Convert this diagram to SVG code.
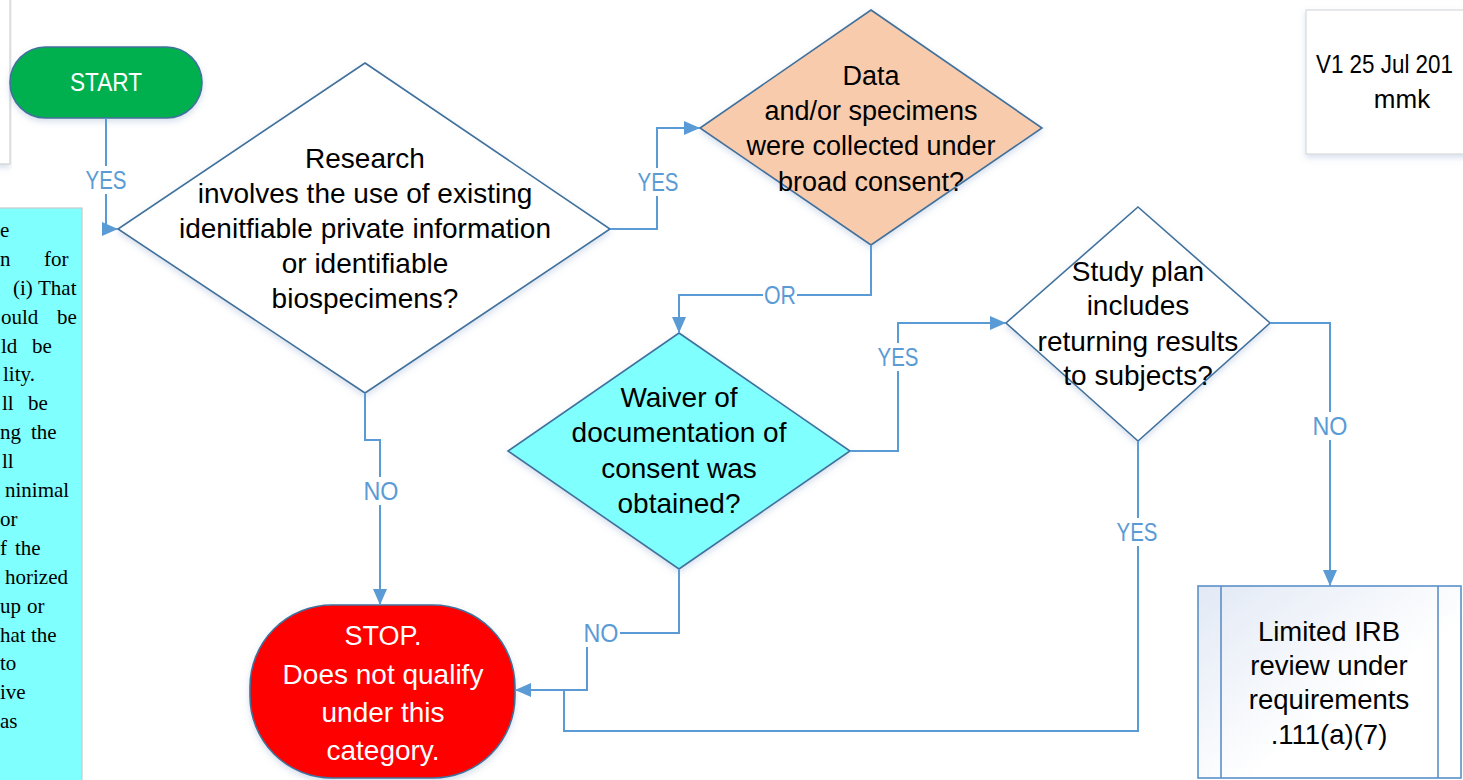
<svg xmlns="http://www.w3.org/2000/svg" width="1463" height="780" viewBox="0 0 1463 780">
<style>
.t{font-family:"Liberation Sans",Arial,sans-serif;font-size:28px;fill:#000;text-anchor:middle}
.w{fill:#fff}
.lbl{font-family:"Liberation Sans",Arial,sans-serif;font-size:25px;fill:#5B9BD5;text-anchor:middle}
.note{font-family:"Liberation Serif","Times New Roman",serif;font-size:21px;fill:#000}
.conn{fill:none;stroke:#5B9BD5;stroke-width:2}
.dia{stroke:#41719C;stroke-width:1.6}
.lb{fill:#fff}
</style>
<defs>
<marker id="arr" markerUnits="userSpaceOnUse" markerWidth="16" markerHeight="14" refX="16" refY="7" orient="auto">
<path d="M0,0 L16,7 L0,14 z" fill="#5B9BD5"/>
</marker>
<filter id="sh" x="-10%" y="-10%" width="120%" height="125%">
<feDropShadow dx="0" dy="3" stdDeviation="3" flood-color="#5B7FB5" flood-opacity="0.25"/>
</filter>
<linearGradient id="irbg" x1="0" y1="0" x2="1" y2="1">
<stop offset="0" stop-color="#E2E9F5"/>
<stop offset="0.6" stop-color="#FFFFFF"/>
</linearGradient>
</defs>
<rect width="1463" height="780" fill="#fff"/>

<g id="topleftbox">
<rect x="-10" y="-10" width="20" height="174" fill="#fff" stroke="#D0D0D0" stroke-width="1.2" filter="url(#sh)"/>
</g>

<g id="notebox">
<rect x="-10" y="208" width="92" height="580" fill="#80FFFF" stroke="#C8C8C8" stroke-width="1.2"/>
<text class="note" x="0" y="237">e</text>
<text class="note" y="266"><tspan x="0">n</tspan><tspan x="44">for</tspan></text>
<text class="note" y="295"><tspan x="13">(i)</tspan><tspan x="38">That</tspan></text>
<text class="note" y="324"><tspan x="1">ould</tspan><tspan x="57">be</tspan></text>
<text class="note" y="353"><tspan x="1">ld</tspan><tspan x="32">be</tspan></text>
<text class="note" x="3" y="381">lity.</text>
<text class="note" y="410"><tspan x="2">ll</tspan><tspan x="28">be</tspan></text>
<text class="note" y="439"><tspan x="0">ng</tspan><tspan x="31">the</tspan></text>
<text class="note" x="2" y="468">ll</text>
<text class="note" x="5" y="497">ninimal</text>
<text class="note" x="0" y="526">or</text>
<text class="note" y="555"><tspan x="0">f</tspan><tspan x="15">the</tspan></text>
<text class="note" x="5" y="584">horized</text>
<text class="note" y="613"><tspan x="0">up</tspan><tspan x="27">or</tspan></text>
<text class="note" y="642"><tspan x="0">hat</tspan><tspan x="31">the</tspan></text>
<text class="note" x="0" y="670">to</text>
<text class="note" x="0" y="699">ive</text>
<text class="note" x="0" y="728">as</text>
</g>

<g id="start">
<rect x="10" y="47" width="192" height="71" rx="35.5" fill="#00B050" stroke="#41719C" stroke-width="1.6" filter="url(#sh)"/>
<text class="t w" x="106" y="91" style="font-size:26px" textLength="72" lengthAdjust="spacingAndGlyphs">START</text>
</g>

<g id="version">
<rect x="1306" y="10" width="200" height="144" fill="#fff" stroke="#D9D9D9" stroke-width="1.2" filter="url(#sh)"/>
<text class="t" x="1316" y="73" style="font-size:26px;text-anchor:start" textLength="137" lengthAdjust="spacingAndGlyphs">V1 25 Jul 201</text>
<text class="t" x="1402" y="108" style="font-size:26px">mmk</text>
</g>

<g id="q1">
<polygon class="dia" points="365,63 610,229 365,393 118,229" fill="#fff" filter="url(#sh)"/>
<text class="t" x="365" y="168">Research</text>
<text class="t" x="365" y="203">involves the use of existing</text>
<text class="t" x="365" y="238">idenitfiable private information</text>
<text class="t" x="365" y="273">or identifiable</text>
<text class="t" x="365" y="308">biospecimens?</text>
</g>

<g id="q2">
<polygon class="dia" points="871,10 1042,128 871,245 700,128" fill="#F8CBAD" filter="url(#sh)"/>
<text class="t" x="871" y="85" style="font-size:27px">Data</text>
<text class="t" x="871" y="120" style="font-size:27px">and/or specimens</text>
<text class="t" x="871" y="155" style="font-size:27px">were collected under</text>
<text class="t" x="871" y="191" style="font-size:27px">broad consent?</text>
</g>

<g id="q3">
<polygon class="dia" points="679,333 850,451 679,569 508,451" fill="#80FFFF" filter="url(#sh)"/>
<text class="t" x="679" y="407">Waiver of</text>
<text class="t" x="679" y="442">documentation of</text>
<text class="t" x="679" y="478">consent was</text>
<text class="t" x="679" y="513">obtained?</text>
</g>

<g id="q4">
<polygon class="dia" points="1138,207 1270,323 1138,441 1006,323" fill="#fff" filter="url(#sh)"/>
<text class="t" x="1138" y="281">Study plan</text>
<text class="t" x="1138" y="315">includes</text>
<text class="t" x="1138" y="351">returning results</text>
<text class="t" x="1138" y="385">to subjects?</text>
</g>

<g id="stop">
<rect x="250" y="605" width="265" height="173" rx="82" fill="#FF0000" stroke="#41719C" stroke-width="1.6" filter="url(#sh)"/>
<text class="t w" x="383" y="645" style="font-size:27px">STOP.</text>
<text class="t w" x="383" y="684">Does not qualify</text>
<text class="t w" x="383" y="722">under this</text>
<text class="t w" x="383" y="760">category.</text>
</g>

<g id="irb">
<rect x="1198" y="586" width="263" height="192" fill="url(#irbg)" stroke="#5B8FC9" stroke-width="1.6"/>
<line x1="1221" y1="586" x2="1221" y2="778" stroke="#5B8FC9" stroke-width="1.6"/>
<line x1="1438" y1="586" x2="1438" y2="778" stroke="#5B8FC9" stroke-width="1.6"/>
<text class="t" x="1329" y="641" style="font-size:27.5px">Limited IRB</text>
<text class="t" x="1329" y="675" style="font-size:27.5px">review under</text>
<text class="t" x="1329" y="709" style="font-size:27.5px">requirements</text>
<text class="t" x="1329" y="744" style="font-size:27.5px">.111(a)(7)</text>
</g>

<g id="connectors">
<path class="conn" d="M106,118 V229 H118" marker-end="url(#arr)"/>
<path class="conn" d="M610,229 H657 V128 H700" marker-end="url(#arr)"/>
<path class="conn" d="M871,245 V295 H679 V333" marker-end="url(#arr)"/>
<path class="conn" d="M850,451 H898 V323 H1006" marker-end="url(#arr)"/>
<path class="conn" d="M1270,323 H1330 V586" marker-end="url(#arr)"/>
<path class="conn" d="M1138,441 V731 H564 V690"/>
<path class="conn" d="M679,569 V633 H587 V690 H515" marker-end="url(#arr)"/>
<path class="conn" d="M365,393 V440 H380 V605" marker-end="url(#arr)"/>
<rect class="lb" x="83" y="166" width="46" height="28"/>
<text class="lbl" x="106" y="189" textLength="41" lengthAdjust="spacingAndGlyphs">YES</text>
<rect class="lb" x="635" y="168" width="46" height="28"/>
<text class="lbl" x="658" y="191" textLength="41" lengthAdjust="spacingAndGlyphs">YES</text>
<rect class="lb" x="763" y="282" width="34" height="26"/>
<text class="lbl" x="780" y="304" textLength="32" lengthAdjust="spacingAndGlyphs">OR</text>
<rect class="lb" x="875" y="343" width="46" height="28"/>
<text class="lbl" x="898" y="366" textLength="41" lengthAdjust="spacingAndGlyphs">YES</text>
<rect class="lb" x="1311" y="412" width="38" height="28"/>
<text class="lbl" x="1330" y="435" textLength="35" lengthAdjust="spacingAndGlyphs">NO</text>
<rect class="lb" x="1114" y="518" width="46" height="28"/>
<text class="lbl" x="1137" y="541" textLength="41" lengthAdjust="spacingAndGlyphs">YES</text>
<rect class="lb" x="582" y="619" width="38" height="28"/>
<text class="lbl" x="601" y="642" textLength="35" lengthAdjust="spacingAndGlyphs">NO</text>
<rect class="lb" x="362" y="477" width="38" height="28"/>
<text class="lbl" x="381" y="500" textLength="35" lengthAdjust="spacingAndGlyphs">NO</text>
</g>
</svg>
